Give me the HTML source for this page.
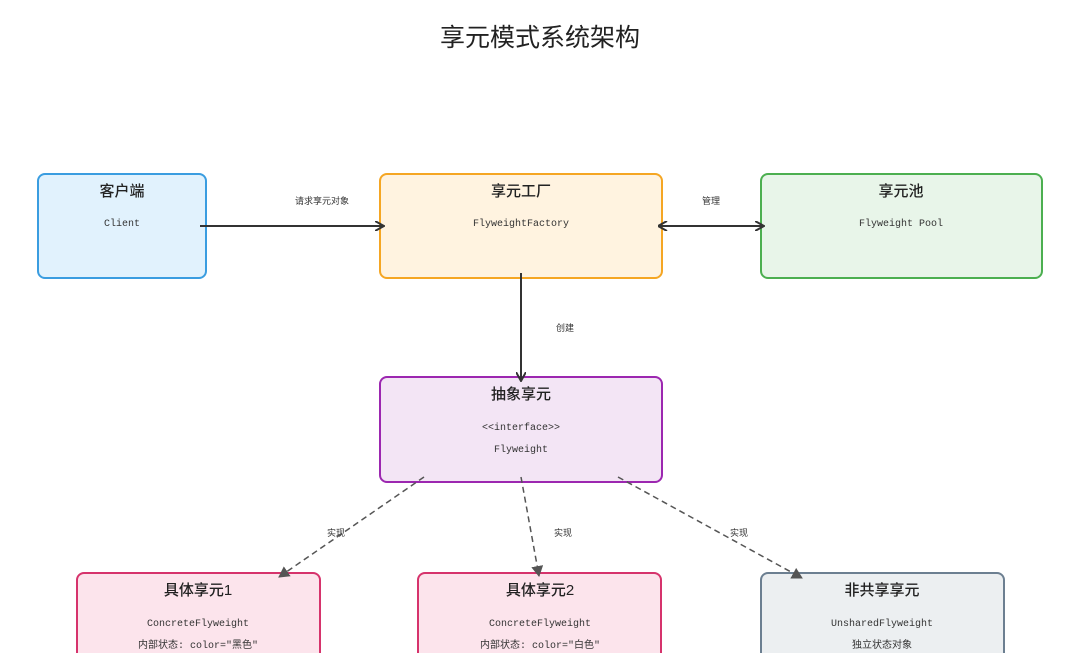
<!DOCTYPE html>
<html><head><meta charset="utf-8"><style>
body{margin:0;background:#fff;width:1080px;height:653px;overflow:hidden}
text{font-family:"Liberation Sans","Noto Sans CJK SC",sans-serif}
.t{font-size:15px;fill:#222;text-anchor:middle;font-weight:500}
.m{font-family:"Liberation Mono","Noto Sans CJK SC",monospace;font-size:10px;fill:#333;text-anchor:middle}
.l{font-size:9px;fill:#333;text-anchor:middle}
</style></head><body>
<svg width="1080" height="653" xmlns="http://www.w3.org/2000/svg">
<defs>
<marker id="a" markerWidth="10" markerHeight="10" refX="8" refY="5" orient="auto" markerUnits="userSpaceOnUse"><path d="M0,0 L9,5 L0,10" fill="none" stroke="#333" stroke-width="2"/></marker>
<marker id="as" markerWidth="10" markerHeight="10" refX="1" refY="5" orient="auto" markerUnits="userSpaceOnUse"><path d="M9,0 L0,5 L9,10" fill="none" stroke="#333" stroke-width="2"/></marker>
<marker id="d" markerWidth="12" markerHeight="12" refX="10" refY="6" orient="auto" markerUnits="userSpaceOnUse"><path d="M0,0 L11,6 L0,12 Z" fill="#555"/></marker>
</defs>
<text x="540" y="46" text-anchor="middle" font-size="25" fill="#222">享元模式系统架构</text>

<rect x="38" y="174" width="168" height="104" rx="7" fill="#e1f2fd" stroke="#3a9de0" stroke-width="2"/>
<text class="t" x="122" y="196">客户端</text><text class="m" x="122" y="226">Client</text>

<rect x="380" y="174" width="282" height="104" rx="7" fill="#fff3e0" stroke="#f5a623" stroke-width="2"/>
<text class="t" x="521" y="196">享元工厂</text><text class="m" x="521" y="226">FlyweightFactory</text>

<rect x="761" y="174" width="281" height="104" rx="7" fill="#e8f5e9" stroke="#4caf50" stroke-width="2"/>
<text class="t" x="901" y="196">享元池</text><text class="m" x="901" y="226">Flyweight Pool</text>

<rect x="380" y="377" width="282" height="105" rx="7" fill="#f3e5f5" stroke="#9c27b0" stroke-width="2"/>
<text class="t" x="521" y="399">抽象享元</text><text class="m" x="521" y="430">&lt;&lt;interface&gt;&gt;</text><text class="m" x="521" y="452">Flyweight</text>

<rect x="77" y="573" width="243" height="100" rx="7" fill="#fce4ec" stroke="#d6336c" stroke-width="2"/>
<text class="t" x="198" y="595">具体享元1</text><text class="m" x="198" y="626">ConcreteFlyweight</text><text class="m" x="198" y="648">内部状态: color="黑色"</text>

<rect x="418" y="573" width="243" height="100" rx="7" fill="#fce4ec" stroke="#d6336c" stroke-width="2"/>
<text class="t" x="540" y="595">具体享元2</text><text class="m" x="540" y="626">ConcreteFlyweight</text><text class="m" x="540" y="648">内部状态: color="白色"</text>

<rect x="761" y="573" width="243" height="100" rx="7" fill="#eceff1" stroke="#6c7f91" stroke-width="2"/>
<text class="t" x="882" y="595">非共享享元</text><text class="m" x="882" y="626">UnsharedFlyweight</text><text class="m" x="882" y="648">独立状态对象</text>

<line x1="200" y1="226" x2="383" y2="226" stroke="#333" stroke-width="2" marker-end="url(#a)"/>
<text class="l" x="322" y="204">请求享元对象</text>
<line x1="659" y1="226" x2="763" y2="226" stroke="#333" stroke-width="2" marker-end="url(#a)" marker-start="url(#as)"/>
<text class="l" x="711" y="204">管理</text>
<line x1="521" y1="273" x2="521" y2="380" stroke="#333" stroke-width="2" marker-end="url(#a)"/>
<text class="l" x="565" y="331">创建</text>

<g stroke="#555" stroke-width="1.5" stroke-dasharray="6,4" fill="none">
<line x1="424" y1="477" x2="279" y2="577" marker-end="url(#d)"/>
<line x1="521" y1="477" x2="539" y2="576" marker-end="url(#d)"/>
<line x1="618" y1="477" x2="802" y2="578" marker-end="url(#d)"/>
</g>
<text class="l" x="336" y="536">实现</text>
<text class="l" x="563" y="536">实现</text>
<text class="l" x="739" y="536">实现</text>
</svg>
</body></html>
